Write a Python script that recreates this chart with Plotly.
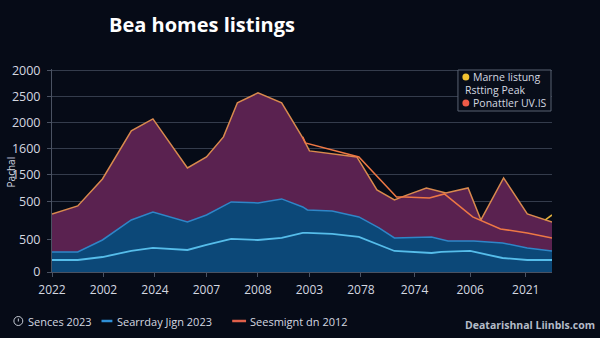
import plotly.graph_objects as go

# ---------------- data ----------------
x_tick_pos = [0, 1, 2, 3, 4, 5, 6, 7.04, 8.12, 9.2]
x_tick_labels = ["2022", "2002", "2024", "2007", "2008", "2003", "2078", "2074", "2006", "2021"]
y_tick_pos = [0, 615, 1346, 1865, 2365, 2865, 3365, 3865]
y_tick_labels = ["0", "500", "500", "1500", "1600", "2000", "2500", "2000"]

# purple area (top)
top_x = [0, 0.5, 0.98, 1.54, 1.96, 2.63, 3.0, 3.33, 3.6, 4.0, 4.46, 4.87, 5.0, 5.92,
         6.31, 6.65, 6.85, 7.27, 7.65, 8.08, 8.33, 8.77, 9.23, 9.71]
top_y = [1115, 1269, 1788, 2711, 2942, 2000, 2211, 2596, 3250, 3442, 3250, 2577, 2327, 2211,
         1577, 1385, 1462, 1615, 1519, 1615, 1000, 1808, 1115, 962]

# separate orange line ("Ponattler UV.IS")
peak_x = [4.87, 4.92, 5.96, 6.69, 6.85, 7.33, 7.62, 8.17, 8.71, 9.23, 9.71]
peak_y = [2596, 2481, 2211, 1442, 1442, 1423, 1500, 1058, 827, 750, 654]

# middle blue area
mid_x = [0, 0.5, 0.98, 1.54, 1.96, 2.63, 3.0, 3.48, 4.0, 4.46, 4.87, 4.96, 5.44, 5.96,
         6.35, 6.65, 7.37, 7.69, 8.19, 8.75, 9.23, 9.71]
mid_y = [385, 385, 615, 1000, 1154, 962, 1096, 1346, 1327, 1404, 1250, 1192, 1173, 1058,
         846, 654, 673, 596, 596, 558, 462, 404]

# bottom light-blue area
low_x = [0, 0.5, 0.98, 1.54, 1.96, 2.63, 3.0, 3.48, 4.0, 4.46, 4.87, 4.96, 5.44, 5.96,
         6.65, 7.37, 7.56, 8.12, 8.75, 9.23, 9.71]
low_y = [231, 231, 288, 404, 462, 423, 519, 635, 615, 654, 750, 750, 731, 673,
         404, 365, 385, 404, 269, 231, 231]

# short yellow segment ("Marne listung")
marne_x = [9.58, 9.71]
marne_y = [1000, 1096]

# ---------------- style ----------------
BG = "#060b17"
GRID = "#343c4c"
TXT = "#d4d8e0"
FONT = "Open Sans"

L, R, T, B = 47, 552, 69, 272


def xp(px):
    return (px - L) / (R - L)


def yp(py):
    return (B - py) / (B - T)


fig = go.Figure()
fig.add_trace(go.Scatter(x=top_x, y=top_y, mode="lines", fill="tozeroy",
                         fillcolor="#5a2250", line=dict(color="#d98a4e", width=1.5),
                         name="Rstting Peak", showlegend=False))
fig.add_trace(go.Scatter(x=mid_x, y=mid_y, mode="lines", fill="tozeroy",
                         fillcolor="#0c4878", line=dict(color="#2e86c8", width=1.5),
                         name="Searrday Jign 2023", showlegend=False))
fig.add_trace(go.Scatter(x=low_x, y=low_y, mode="lines", fill="tozeroy",
                         fillcolor="#0c4878", line=dict(color="#56bdea", width=1.8),
                         name="Sences 2023", showlegend=False))
fig.add_trace(go.Scatter(x=peak_x, y=peak_y, mode="lines",
                         line=dict(color="#ee7845", width=1.5),
                         name="Ponattler UV.IS", showlegend=False))
fig.add_trace(go.Scatter(x=marne_x, y=marne_y, mode="lines",
                         line=dict(color="#e2b13c", width=1.5),
                         name="Marne listung", showlegend=False))

annotations = []
shapes = []

# y-axis title
annotations.append(dict(x=xp(6), y=yp(172), xref="paper", yref="paper", text="Pachal",
                        textangle=-90, showarrow=False, xanchor="center", yanchor="middle",
                        font=dict(family=FONT, size=10, color=TXT)))

# top-right legend box
shapes.append(dict(type="rect", xref="paper", yref="paper", x0=xp(457), x1=xp(551),
                   y0=yp(111), y1=yp(70), line=dict(color="#596273", width=1),
                   fillcolor="#080d19", layer="above"))
shapes.append(dict(type="circle", xref="paper", yref="paper", x0=xp(461.5), x1=xp(468.5),
                   y0=yp(80.5), y1=yp(73.5), line=dict(width=0), fillcolor="#f2c230",
                   layer="above"))
shapes.append(dict(type="circle", xref="paper", yref="paper", x0=xp(461.5), x1=xp(468.5),
                   y0=yp(106.5), y1=yp(99.5), line=dict(width=0), fillcolor="#ee5a48",
                   layer="above"))
for txt, xs, ys in [("Marne listung", 470, 77), ("Rstting Peak", 462, 90),
                    ("Ponattler UV.IS", 470, 103)]:
    annotations.append(dict(x=xp(xs), y=yp(ys), xref="paper", yref="paper", text=txt,
                            xanchor="left", yanchor="middle", showarrow=False,
                            font=dict(family=FONT, size=10.5, color=TXT)))

# bottom legend
LY = 321
shapes.append(dict(type="circle", xref="paper", yref="paper", x0=xp(8.5), x1=xp(17.5),
                   y0=yp(LY + 4.5), y1=yp(LY - 4.5), line=dict(color="#c4cad4", width=1)))
shapes.append(dict(type="line", xref="paper", yref="paper", x0=xp(13), x1=xp(13),
                   y0=yp(LY - 2.5), y1=yp(LY + 0.5), line=dict(color="#c4cad4", width=1)))
shapes.append(dict(type="line", xref="paper", yref="paper", x0=xp(97), x1=xp(108),
                   y0=yp(LY), y1=yp(LY), line=dict(color="#2f8fd6", width=2.5)))
shapes.append(dict(type="line", xref="paper", yref="paper", x0=xp(229), x1=xp(243),
                   y0=yp(LY), y1=yp(LY), line=dict(color="#e0604a", width=2.5)))
for txt, xs in [("Sences 2023", 21), ("Searrday Jign 2023", 111), ("Seesmignt dn 2012", 245)]:
    annotations.append(dict(x=xp(xs), y=yp(LY), xref="paper", yref="paper", text=txt,
                            xanchor="left", yanchor="middle", showarrow=False,
                            font=dict(family=FONT, size=11, color=TXT)))

# watermark
annotations.append(dict(x=xp(597), y=yp(325), xref="paper", yref="paper",
                        text="<b>Deatarishnal Liinbls.com</b>", xanchor="right",
                        yanchor="middle", showarrow=False,
                        font=dict(family=FONT, size=10.5, color="#b4bcc8")))

fig.update_layout(
    width=600, height=338,
    margin=dict(l=L, r=600 - R, t=T, b=338 - B, pad=0),
    paper_bgcolor=BG, plot_bgcolor=BG,
    showlegend=False,
    title=dict(text="<b>Bea homes listings</b>", x=202 / 600, xanchor="center",
               y=1 - 25 / 338, yanchor="middle", xref="container", yref="container",
               font=dict(family=FONT, size=20, color="#ffffff")),
    xaxis=dict(range=[0, 9.71], tickmode="array", tickvals=x_tick_pos,
               ticktext=x_tick_labels, showgrid=False, zeroline=False,
               showline=True, linecolor="#4a5262", linewidth=1,
               ticks="outside", ticklen=4, tickcolor="#4a5262",
               tickfont=dict(family=FONT, size=12, color=TXT), ticklabelstandoff=3),
    yaxis=dict(range=[0, 3900], tickmode="array", tickvals=y_tick_pos,
               ticktext=y_tick_labels, showgrid=True, gridcolor=GRID, gridwidth=1,
               zeroline=False, showline=True, linecolor="#4a5262", linewidth=1,
               ticks="outside", ticklen=4, tickcolor="#4a5262",
               tickfont=dict(family=FONT, size=12.5, color=TXT), ticklabelstandoff=4),
    annotations=annotations,
    shapes=shapes,
)

fig.write_html("out.html")
